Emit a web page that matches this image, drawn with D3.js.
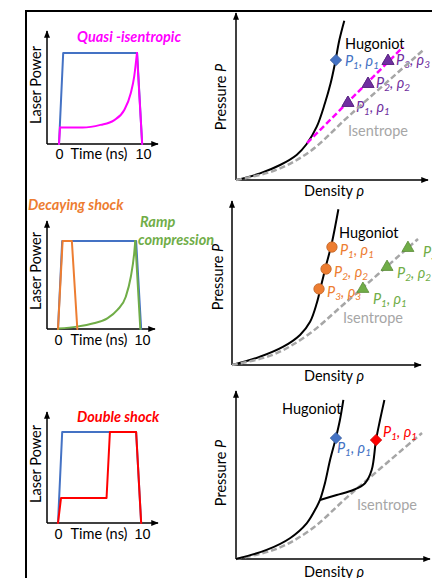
<!DOCTYPE html>
<html>
<head>
<meta charset="utf-8">
<script src="https://cdn.jsdelivr.net/npm/d3@7/dist/d3.min.js"></script>
<style>
  html, body { margin: 0; padding: 0; background: #fff; }
  svg { display: block; font-family: "Lato", "Open Sans", sans-serif; }
</style>
</head>
<body>
<svg id="chart" width="432" height="578"></svg>
<script>
// ---------- Laser pulse shapes: [time (ns), normalised power] ----------
const timeTicks = [0, 10];
const squarePulse = [[0, 0], [0.5, 1], [9.3, 1], [9.9, 0]];
const quasiIsentropicPulse = [[0, 0], [0.12, 0.18], [2.8, 0.18], [4.94, 0.21], [6.54, 0.26],
  [7.75, 0.37], [8.55, 0.56], [8.95, 0.74], [9.28, 1], [9.9, 0]];
const decayingShockPulse = [[0, 0], [0.55, 1], [1.65, 1], [2.3, 0]];
const rampPulse = [[0, 0], [0.05, 0.005], [2.25, 0.027], [4.25, 0.065], [5.87, 0.12], [7.07, 0.216],
  [8.07, 0.367], [8.67, 0.594], [9.07, 0.86], [9.2, 1], [9.8, 0]];
const doubleShockPulse = [[0, 0], [0.36, 0.275], [5.78, 0.275], [6.18, 1], [9.3, 1], [9.9, 0]];

// ---------- Pressure–density curves: [density, pressure] (arbitrary units) ----------
const hugoniotA = [[0, 0], [12.6, 4], [23.2, 9.1], [31.9, 15.2], [37.2, 21.8], [42.5, 32.3],
  [46.8, 46.5], [49.8, 58.6], [52.1, 70.7], [54.4, 84.8], [57, 96.5]];
const hugoniotB = [[0, 0], [14.7, 5], [27, 11.1], [35.8, 18.2], [41.1, 26.2], [44.6, 37.4],
  [47.2, 49.5], [49.8, 61.6], [52.5, 73.7], [56, 94.4]];
const hugoniotC = [[0, 0], [16.1, 5.5], [28.4, 12.6], [37.2, 21.6], [42.5, 31.7], [44.2, 35.8],
  [46.8, 45.9], [49.5, 60], [52.5, 73.1], [54.7, 84.2], [56.5, 96.4]];
const reshockHugoniot = [[44.2, 35.8], [53, 38.8], [61.7, 41.8], [67.9, 45.9], [71.4, 53.9],
  [73.7, 72.1], [75.8, 84.2], [78.1, 96.4]];
const isentropeA = [[0, 0], [21.2, 6.1], [38.8, 17.2], [60, 39.4], [98.6, 78.8]];
const isentropeB = [[0, 0], [21, 6], [39, 17.5], [60, 38], [97.9, 76.4]];
const isentropeC = [[0, 0], [21, 6], [39, 17.5], [60, 39], [97.9, 76.4]];
const quasiIsentropePath = [[37.4, 22.4], [87.9, 80.6]];

// States reached: [density, pressure, index]
const singleShockState = [[52.6, 72.7, 1]];
const quasiIsentropicStates = [[58.9, 46.7, 1], [69.5, 58.2, 2], [80, 72.1, 3]];
const decayingShockStates = [[52.6, 71.5, 1], [49.5, 58.2, 2], [45.8, 46.1, 3]];
const rampStates = [[68.9, 46.1, 1], [81.6, 59.4, 2], [92.6, 70.9, 3]];
const doubleShockSingleState = [[52.6, 73.3, 1]];
const doubleShockState = [[73.7, 72.1, 1]];

// ---------- Palette ----------
const C = {
  blue: "#4472C4", magenta: "#FF00FF", orange: "#ED7D31", green: "#70AD47",
  red: "#FF0000", purple: "#7030A0", gray: "#A6A6A6", black: "#000"
};
const FS = "14.5px";

const svg = d3.select("#chart");

// arrow head marker for axes
svg.append("defs").append("marker")
  .attr("id", "arrow").attr("viewBox", "0 0 10 10").attr("refX", 9).attr("refY", 5)
  .attr("markerWidth", 5).attr("markerHeight", 5).attr("orient", "auto-start-reverse")
  .append("path").attr("d", "M0,1 L10,5 L0,9 z").attr("fill", "#000");

// outer frame
svg.append("rect").attr("x", 26).attr("y", 11).attr("width", 430).attr("height", 600)
  .attr("fill", "none").attr("stroke", "#000").attr("stroke-width", 2);

function axesArrows(g, ox, oy, top, right) {
  g.append("line").attr("x1", ox).attr("y1", oy).attr("x2", ox).attr("y2", top)
    .attr("stroke", "#000").attr("stroke-width", 1.5).attr("marker-end", "url(#arrow)");
  g.append("line").attr("x1", ox).attr("y1", oy).attr("x2", right).attr("y2", oy)
    .attr("stroke", "#000").attr("stroke-width", 1.5).attr("marker-end", "url(#arrow)");
}

function rotatedLabel(g, x, y, parts) {
  const t = g.append("text").attr("transform", `translate(${x},${y}) rotate(-90)`)
    .attr("text-anchor", "middle").style("font-size", FS).attr("fill", "#000");
  parts.forEach(p => t.append("tspan").style("font-style", p.italic ? "italic" : "normal").text(p.text));
  return t;
}

// ---------- Left column: laser pulses ----------
// smooth: the rising part between the first and last corners is drawn as a smooth curve
const leftPanels = [
  { x0: 59, yBase: 144, yTop: 53, axisTop: 31, axisRight: 158, tickY: 159, ylabY: 85,
    pulses: [[squarePulse, C.blue, false], [quasiIsentropicPulse, C.magenta, true]] },
  { x0: 58, yBase: 329, yTop: 241, axisTop: 221, axisRight: 155, tickY: 345, ylabY: 271,
    pulses: [[squarePulse, C.blue, false], [rampPulse, C.green, true], [decayingShockPulse, C.orange, false]] },
  { x0: 58, yBase: 523, yTop: 432, axisTop: 412, axisRight: 158, tickY: 539, ylabY: 464,
    pulses: [[squarePulse, C.blue, false], [doubleShockPulse, C.red, false]] }
];

leftPanels.forEach(p => {
  const g = svg.append("g");
  const x = d3.scaleLinear().domain([0, 10]).range([p.x0, p.x0 + 84]);
  const y = d3.scaleLinear().domain([0, 1]).range([p.yBase, p.yTop]);
  const straight = d3.line().x(d => x(d[0])).y(d => y(d[1]));
  const smooth = d3.line().x(d => x(d[0])).y(d => y(d[1])).curve(d3.curveMonotoneX);

  axesArrows(g, 47, p.yBase, p.axisTop, p.axisRight);

  p.pulses.forEach(([data, color, isSmooth]) => {
    const pieces = isSmooth
      ? [[data.slice(0, 2), straight], [data.slice(1, -1), smooth], [data.slice(-2), straight]]
      : [[data, straight]];
    pieces.forEach(([seg, gen]) => {
      g.append("path").datum(seg).attr("d", gen).attr("fill", "none")
        .attr("stroke", color).attr("stroke-width", 2).attr("stroke-linejoin", "round")
        .attr("stroke-linecap", "round");
    });
  });

  // time tick labels through a bottom axis
  const ax = g.append("g").attr("transform", `translate(0,${p.tickY - 14})`)
    .call(d3.axisBottom(x).tickValues(timeTicks).tickSize(0).tickPadding(0).tickFormat(d3.format("d")));
  ax.select(".domain").remove();
  ax.selectAll("text").attr("font-family", null).style("font-size", FS).attr("fill", "#000")
    .attr("dy", null).attr("y", 14);

  g.append("text").attr("x", 99).attr("y", p.tickY).attr("text-anchor", "middle")
    .style("font-size", FS).text("Time (ns)");
  rotatedLabel(g, 41, p.ylabY, [{ text: "Laser Power" }]);
});

function title(text, x, y, color) {
  svg.append("text").attr("x", x).attr("y", y).attr("fill", color)
    .style("font-size", "14.5px").style("font-weight", "bold").style("font-style", "italic").text(text);
}
title("Quasi -isentropic", 77, 42, C.magenta);
title("Decaying shock", 28, 210, C.orange);
title("Ramp", 140, 227, C.green);
title("compression", 138, 245, C.green);
title("Double shock", 77, 422, C.red);

// ---------- Right column: P–ρ diagrams ----------
const rightPanels = [
  { ox: 236, oy: 180, top: 13, right: 428, ylabX: 226, ylabY: 97, xlabY: 196,
    hugLabel: [345, 49], isenLabel: [348, 136] },
  { ox: 232, oy: 365, top: 201, right: 421, ylabX: 223, ylabY: 277, xlabY: 381,
    hugLabel: [339, 238], isenLabel: [343, 323] },
  { ox: 236, oy: 559, top: 391, right: 430, ylabX: 226, ylabY: 473, xlabY: 577,
    hugLabel: [282, 414], isenLabel: [357, 510] }
];

function stateLabel(g, px, py, n, color) {
  const t = g.append("text").attr("x", px).attr("y", py).attr("fill", color)
    .style("font-size", FS).style("font-style", "italic");
  t.append("tspan").text("P");
  t.append("tspan").attr("dy", 3).style("font-size", "10px").text(n);
  t.append("tspan").attr("dy", -3).text(", ρ");
  t.append("tspan").attr("dy", 3).style("font-size", "10px").text(n);
}

const diamond = d3.symbol().type(d3.symbolSquare).size(64);
const triangle = d3.symbol().type(d3.symbolTriangle).size(62);
const circle = d3.symbol().type(d3.symbolCircle).size(85);

function drawStates(g, x, y, data, shape, color, dx, dy, label) {
  g.selectAll(null).data(data).join("path")
    .attr("d", shape === "circle" ? circle() : shape === "diamond" ? diamond() : triangle())
    .attr("transform", d => `translate(${x(d[0])},${y(d[1])})` + (shape === "diamond" ? " rotate(45)" : ""))
    .attr("fill", color)
    .attr("stroke", d3.color(color).darker(0.6)).attr("stroke-width", 0.8);
  if (label) data.forEach(d => stateLabel(g, x(d[0]) + dx(d), y(d[1]) + dy(d), d[2], color));
}

rightPanels.forEach((p, i) => {
  const g = svg.append("g");
  const x = d3.scaleLinear().domain([0, 100]).range([p.ox, p.ox + 190]);
  const y = d3.scaleLinear().domain([0, 100]).range([p.oy, p.oy - 165]);
  const line = d3.line().x(d => x(d[0])).y(d => y(d[1])).curve(d3.curveCatmullRom.alpha(0.5));
  const curve = (data, color, width, dash) => g.append("path").datum(data).attr("d", line)
    .attr("fill", "none").attr("stroke", color).attr("stroke-width", width)
    .attr("stroke-dasharray", dash || null);

  axesArrows(g, p.ox, p.oy, p.top, p.right);

  rotatedLabel(g, p.ylabX, p.ylabY, [{ text: "Pressure " }, { text: "P", italic: true }]);
  const xl = g.append("text").attr("x", 334).attr("y", p.xlabY).attr("text-anchor", "middle")
    .style("font-size", FS);
  xl.append("tspan").text("Density ");
  xl.append("tspan").style("font-style", "italic").text("ρ");

  g.append("text").attr("x", p.hugLabel[0]).attr("y", p.hugLabel[1]).style("font-size", FS).text("Hugoniot");
  g.append("text").attr("x", p.isenLabel[0]).attr("y", p.isenLabel[1]).attr("fill", C.gray)
    .style("font-size", FS).text("Isentrope");

  if (i === 0) {
    curve(hugoniotA, C.black, 2);
    curve(quasiIsentropePath, C.magenta, 2.5, "6,3");
    drawStates(g, x, y, singleShockState, "diamond", C.blue, () => 9, () => 6, true);
    drawStates(g, x, y, quasiIsentropicStates, "triangle", C.purple,
      () => 8, d => [0, 9, 4, 4][d[2]], true);
    curve(isentropeA, C.gray, 2.5, "6,3");
    drawStates(g, x, y, quasiIsentropicStates, "triangle", C.purple, null, null, false);
  } else if (i === 1) {
    curve(hugoniotB, C.black, 2);
    curve(isentropeB, C.gray, 2.5, "6,3");
    drawStates(g, x, y, decayingShockStates, "circle", C.orange, () => 8, () => 8, true);
    drawStates(g, x, y, rampStates, "triangle", C.green,
      d => [0, 10, 10, 15][d[2]], d => [0, 15, 11, 9][d[2]], true);
  } else {
    curve(isentropeC, C.gray, 2.5, "6,3");
    curve(hugoniotC, C.black, 2);
    curve(reshockHugoniot, C.black, 2);
    drawStates(g, x, y, doubleShockSingleState, "diamond", C.blue, () => 1, () => 15, true);
    drawStates(g, x, y, doubleShockState, "diamond", C.red, () => 7, () => -3, true);
  }
});
</script>
</body>
</html>
